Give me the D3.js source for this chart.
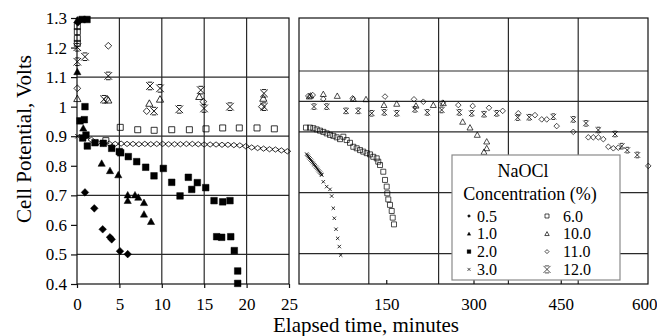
<!DOCTYPE html>
<html><head><meta charset="utf-8">
<script src="https://cdn.jsdelivr.net/npm/d3@7"></script>
<style>
body{margin:0;background:#fff}
svg{display:block}
text{font-family:"Liberation Serif","Times New Roman",serif;fill:#000}
</style>
</head><body>
<svg id="c" width="657" height="336"></svg>
<script>
// ---------- DATA (time in minutes, potential in volts) ----------
const seriesNames = ["0.5","1.0","2.0","3.0","6.0","10.0","11.0","12.0"];
const xTicksLeft = [0,5,10,15,20,25];
const xTicksRight = [150,300,450,600];
const yTicks = [0.4,0.5,0.6,0.7,0.8,0.9,1.0,1.1,1.2,1.3];

// left panel (0-25 min)
const L05 = [[0.1,1.285],[0.94,0.710],[2.04,0.656],[3.03,0.585],[3.89,0.558],[4.09,0.551],[5.07,0.511],[5.98,0.501]];
const L10 = [[0.04,1.293],[0.04,1.118],[0.74,0.927],[2.91,0.808],[3.89,0.783],[4.87,0.769],[5.98,0.701],[5.98,0.682],[6.84,0.701],[7.23,0.693],[7.9,0.675],[7.9,0.636],[8.73,0.611]];
const L20 = [[0.6,1.295],[1.18,1.295],[0.94,1.0],[0.35,0.952],[0.86,0.956],[0.67,0.894],[1.06,0.904],[1.22,0.867],[2.12,0.878],[3.1,0.876],[4.09,0.859],[4.99,0.848],[5.15,0.844],[6.05,0.831],[7.04,0.814],[8.1,0.795],[9.08,0.766],[10.18,0.791],[11.17,0.744],[12.15,0.698],[13.13,0.761],[13.53,0.720],[14.19,0.743],[15.18,0.726],[16.16,0.682],[17.18,0.678],[18.04,0.682],[16.47,0.560],[17.06,0.558],[18.13,0.560],[18.55,0.513],[18.95,0.444],[18.95,0.402]];
const L30 = [[0.06,0.9]];
const L60 = [[0.04,1.271],[0.04,1.254],[0.04,1.231],[0.04,1.214],[3.4,0.885],[5.1,0.930],[7.16,0.922],[9.1,0.920],[11.17,0.922],[13.25,0.922],[15.21,0.925],[17.18,0.928],[19.14,0.928],[21.23,0.928],[23.27,0.925]];
const L100 = [[0.04,1.027],[3.69,1.022],[8.53,1.011],[9.79,1.025],[14.42,1.034],[21.97,1.028]];
const L110 = [[3.69,1.206],[0.04,1.062],[3.5,1.025],[8.22,0.985],[14.9,1.017],[21.8,1.0]];
const L110line = [[1.0,0.898],[1.7,0.888],[2.4,0.878],[3.1,0.876],[3.8,0.875],[4.5,0.874],[5.2,0.875],[5.9,0.874],[6.6,0.874],[7.3,0.873],[8.0,0.874],[8.7,0.873],[9.4,0.874],[10.1,0.874],[10.8,0.873],[11.5,0.873],[12.2,0.873],[12.9,0.874],[13.6,0.874],[14.3,0.873],[15.0,0.872],[15.7,0.872],[16.4,0.872],[17.1,0.871],[17.8,0.871],[18.5,0.870],[19.2,0.869],[19.9,0.866],[20.6,0.862],[21.3,0.860],[22.0,0.858],[22.7,0.856],[23.4,0.855],[24.1,0.852],[24.8,0.849]];
const L120 = [[0.04,1.201],[0.04,1.152],[0.94,1.169],[3.69,1.104],[3.18,1.025],[8.61,1.070],[9.79,1.062],[9.08,0.985],[12.06,0.991],[14.59,1.056],[14.98,0.994],[18.04,1.0],[22.05,1.045],[22.05,1.0]];

// right panel (25-600 min)
const R30 = [[13.2,0.827],[14.5,0.823],[16.0,0.819],[17.5,0.815],[19.0,0.811],[20.5,0.807],[22.0,0.803],[23.5,0.799],[25.0,0.795],[26.5,0.792],[28.0,0.788],[29.5,0.784],[31.0,0.780],[32.5,0.776],[34.0,0.772],[35.5,0.768],[37.0,0.764],[38.5,0.760],[39.0,0.758],[41.8,0.736],[47.6,0.720],[53.3,0.711],[56.2,0.689],[59.0,0.649],[60.7,0.616],[63.6,0.580],[66.5,0.550],[69.3,0.523],[71.7,0.495]];
const R60 = [[12.0,0.914],[18.9,0.914],[24.6,0.912],[30.4,0.908],[36.1,0.904],[41.8,0.900],[47.6,0.895],[53.3,0.890],[59.0,0.887],[64.8,0.882],[70.5,0.876],[76.2,0.884],[82.0,0.873],[87.7,0.864],[93.4,0.851],[99.2,0.846],[104.9,0.840],[110.5,0.835],[116.4,0.830],[122.1,0.826],[127.7,0.818],[133.6,0.813],[136.3,0.802],[139.3,0.791],[144.9,0.769],[147.9,0.742],[150.8,0.720],[151.8,0.698],[153.5,0.678],[156.4,0.660],[159.4,0.640],[161.1,0.618],[163.3,0.596]];
const R100 = [[17.7,1.016],[20.1,1.019],[41.8,1.024],[65.8,1.018],[93.4,1.008],[115.2,1.007],[146.1,0.988],[168.0,0.992],[201.1,0.986],[230.9,0.988],[248.1,0.994],[281.4,0.933],[294.0,0.914],[306.5,0.890],[322.7,0.868],[322.7,0.846],[318.0,0.834]];
const R110 = [[16.0,1.018],[23.6,1.021],[41.8,1.008],[92.3,1.010],[147.9,1.016],[197.7,1.007],[213.7,0.999],[247.1,0.996],[273.9,0.988],[298.6,0.985],[326.6,0.979],[350.2,0.969],[377.0,0.961],[405.7,0.955],[417.3,0.941],[425.9,0.941],[443.0,0.919],[471.6,0.900],[497.4,0.882],[505.9,0.882],[514.6,0.882],[523.2,0.876],[531.8,0.851],[540.4,0.846],[549.0,0.848],[600.5,0.788]];
const R120 = [[25.8,0.983],[47.6,0.983],[80.8,0.969],[101.9,0.969],[125.0,0.961],[146.6,0.964],[168.0,0.961],[199.4,0.974],[220.6,0.964],[245.3,0.972],[275.6,0.964],[296.9,0.961],[318.1,0.958],[339.9,0.961],[376.0,0.947],[395.9,0.948],[437.2,0.950],[471.6,0.941],[493.4,0.928],[514.6,0.906],[543.3,0.893],[554.8,0.853],[564.4,0.840],[581.6,0.824]];

// ---------- MARKERS ----------
const shapes = {
  diamond:(r,h)=>`M0,${-(h||r)}L${r},0L0,${h||r}L${-r},0Z`,
  triangle:r=>`M0,${-r}L${r},${r*0.8}L${-r},${r*0.8}Z`,
  square:r=>`M${-r},${-r}h${2*r}v${2*r}h${-2*r}Z`,
  x:r=>`M${-r},${-r}L${r},${r}M${-r},${r}L${r},${-r}`,
  star:r=>`M${-r},${-r}L${r},${r}M${-r},${r}L${r},${-r}M${-r*0.6},${-r}H${r*0.6}M${-r*0.6},${r}H${r*0.6}`
};
const style = {
  "0.5":{shape:"diamond",fill:"#000"},
  "1.0":{shape:"triangle",fill:"#000"},
  "2.0":{shape:"square",fill:"#000"},
  "3.0":{shape:"x",fill:"none"},
  "6.0":{shape:"square",fill:"none"},
  "10.0":{shape:"triangle",fill:"none"},
  "11.0":{shape:"diamond",fill:"none"},
  "12.0":{shape:"star",fill:"none"}
};

// ---------- SCALES ----------
const xL = d3.scaleLinear().domain([0,25]).range([77,289]);
const yL = d3.scaleLinear().domain([0.4,1.3]).range([284,18]);
const xR = d3.scaleLinear().domain([0,600]).range([299,648]);
const yR = d3.scaleLinear().domain([0.4,1.2742]).range([284,18]);

const svg = d3.select("#c");
const gridC = "#2a2a2a";

// ---------- GRIDS ----------
const gL = svg.append("g");
gL.selectAll("line.v").data([5,10,15,20]).join("line")
  .attr("x1",d=>xL(d)).attr("x2",d=>xL(d)).attr("y1",yL(1.3)).attr("y2",yL(0.4))
  .attr("stroke",gridC).attr("stroke-width",1.2);
gL.selectAll("line.h").data([1.1,0.9,0.7,0.5]).join("line")
  .attr("x1",xL(0)).attr("x2",xL(25)).attr("y1",d=>yL(d)).attr("y2",d=>yL(d))
  .attr("stroke",gridC).attr("stroke-width",1.2);
gL.append("rect").attr("x",xL(0)).attr("y",yL(1.3)).attr("width",xL(25)-xL(0)).attr("height",yL(0.4)-yL(1.3))
  .attr("fill","none").attr("stroke","#111").attr("stroke-width",1.2);

const gR = svg.append("g");
gR.selectAll("line.v").data([120,240,360,480]).join("line")
  .attr("x1",d=>xR(d)).attr("x2",d=>xR(d)).attr("y1",yR.range()[1]).attr("y2",yR.range()[0])
  .attr("stroke",gridC).attr("stroke-width",1.2);
gR.selectAll("line.h").data([1.1,1.0,0.9,0.7,0.5]).join("line")
  .attr("x1",xR(0)).attr("x2",xR(600)).attr("y1",d=>yR(d)).attr("y2",d=>yR(d))
  .attr("stroke",gridC).attr("stroke-width",1.2);
gR.append("rect").attr("x",xR(0)).attr("y",yR.range()[1]).attr("width",xR(600)-xR(0)).attr("height",yR.range()[0]-yR.range()[1])
  .attr("fill","none").attr("stroke","#111").attr("stroke-width",1.2);

// ---------- AXES ----------
const fmt = d=>String(+d.toFixed(1));
const ayL = svg.append("g").attr("transform",`translate(${xL(0)},0)`)
  .call(d3.axisLeft(yL).tickValues(yTicks).tickFormat(fmt).tickSize(6).tickPadding(4));
const axL = svg.append("g").attr("transform",`translate(0,${yL(0.4)})`)
  .call(d3.axisBottom(xL).tickValues(xTicksLeft).tickFormat(d=>d).tickSize(4).tickPadding(10));
const axR = svg.append("g").attr("transform",`translate(0,${yR(0.4)})`)
  .call(d3.axisBottom(xR).tickValues(xTicksRight).tickFormat(d=>d).tickSizeInner(-4).tickSizeOuter(0).tickPadding(14));
[ayL,axL,axR].forEach(a=>{
  a.attr("font-family",null);
  a.select(".domain").remove();
  a.selectAll("line").attr("stroke","#111").attr("stroke-width",1.2);
  a.selectAll("text").style("font-size","17px").style("font-family","'Liberation Serif',serif").attr("fill","#000");
});
axR.selectAll(".tick").filter(d=>d===600).select("line").remove();
axR.selectAll(".tick").filter(d=>d===600).select("text").attr("text-anchor","end").attr("x",9);

// ---------- POINTS ----------
function plot(data, name, xs, ys, r, h, sw){
  const st = style[name];
  svg.append("g").selectAll("path").data(data).join("path")
    .attr("transform",d=>`translate(${xs(d[0])},${ys(d[1])})`)
    .attr("d",shapes[st.shape](r,h))
    .attr("fill",st.fill==="none"?"none":st.fill)
    .attr("stroke","#000").attr("stroke-width",sw||0.9);
}
// left
plot(L110line,"11.0",xL,yL,3.4,2.6,0.8);
plot(L110,"11.0",xL,yL,3.4,3.4,0.8);
plot(L60,"6.0",xL,yL,3,null,0.8);
plot(L100,"10.0",xL,yL,3.6,null,0.8);
plot(L120,"12.0",xL,yL,3.8,null,0.9);
plot(L30,"3.0",xL,yL,2.2,null,0.9);
plot(L20,"2.0",xL,yL,3.3,null,0.5);
plot(L10,"1.0",xL,yL,3.6,null,0.5);
plot(L05,"0.5",xL,yL,3.8,null,0.5);
// right
plot(R60,"6.0",xR,yR,2.5,null,0.7);
plot(R100,"10.0",xR,yR,3,null,0.7);
plot(R110,"11.0",xR,yR,2.8,null,0.7);
plot(R120,"12.0",xR,yR,2.8,null,0.8);
plot(R30,"3.0",xR,yR,1.7,null,0.8);

// ---------- LEGEND ----------
const lg = svg.append("g").attr("transform","translate(452,155)");
lg.append("rect").attr("width",168).attr("height",125).attr("fill","#fff").attr("stroke","#8a8a8a").attr("stroke-width",1.2);
lg.append("text").attr("x",71).attr("y",22).attr("text-anchor","middle").style("font-size","18px").text("NaOCl");
lg.append("text").attr("x",78).attr("y",45).attr("text-anchor","middle").style("font-size","18px").text("Concentration (%)");
const legSizes = {"0.5":1.6,"1.0":1.8,"2.0":1.9,"3.0":1.5,"6.0":2.0,"10.0":2.2,"11.0":2.0,"12.0":3.5};
const rowStep = 17.8, row0 = 66.5;
seriesNames.forEach((n,i)=>{
  const col = i<4?0:1, row = i%4;
  const mx = col===0?17:95, tx = col===0?25:111;
  const st = style[n];
  const by = row0 + row*rowStep;
  lg.append("path").attr("transform",`translate(${mx},${by-5.5})`)
    .attr("d",shapes[st.shape](legSizes[n]))
    .attr("fill",st.fill==="none"?"none":st.fill)
    .attr("stroke","#000").attr("stroke-width",st.fill==="none"?0.7:0.3);
  lg.append("text").attr("x",tx).attr("y",by).style("font-size","16px").text(n);
});

// ---------- TITLES ----------
svg.append("text").attr("transform","translate(31,139) rotate(-90)").attr("text-anchor","middle")
  .style("font-size","21px").text("Cell Potential, Volts");
svg.append("text").attr("x",366).attr("y",332).attr("text-anchor","middle")
  .style("font-size","21px").text("Elapsed time, minutes");
</script>
</body></html>
